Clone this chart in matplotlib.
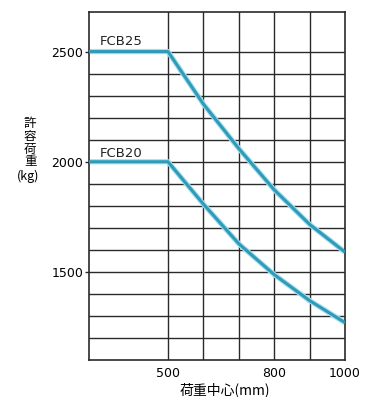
import numpy as np
import matplotlib
matplotlib.use("Agg")
from matplotlib import pyplot as plt

plt.rcParams['font.family'] = ['DejaVu Sans', 'Noto Sans CJK JP']

# load center (mm) and allowable load (kg)
load_center = [277, 500, 600, 700, 800, 900, 1000]
fcb25_load = [2500, 2500, 2262, 2060, 1873, 1716, 1590]
fcb20_load = [2000, 2000, 1808, 1628, 1488, 1370, 1270]

x_ticks = [500, 800, 1000]
y_ticks = [1500, 2000, 2500]
x_grid = [500, 600, 700, 800, 900]
y_grid = list(range(1200, 2600, 100))

ylabel_chars = ['許', '容', '荷', '重']

line_color = '#2f9bb6'
grid_color = '#2a2a2a'

fig = plt.figure(figsize=(3.67, 3.97), dpi=100)
ax = fig.add_axes([0.2425, 0.093, 0.6975, 0.877])

for gx in x_grid:
    ax.axvline(gx, color=grid_color, lw=1.0, zorder=1)
for gy in y_grid:
    ax.axhline(gy, color=grid_color, lw=1.0, zorder=1)

# soft halo then the line itself, like the printed original
for ys in (fcb25_load, fcb20_load):
    ax.plot(load_center, ys, color='#a5def0', lw=3.8, solid_capstyle='butt', zorder=2)
    ax.plot(load_center, ys, color=line_color, lw=2.2, solid_capstyle='butt', zorder=3)

ax.text(308, 2545, 'FCB25', fontsize=9.5, color='#222222', va='center', ha='left')
ax.text(308, 2036, 'FCB20', fontsize=9.5, color='#222222', va='center', ha='left')

ax.set_xlim(277, 1000)
ax.set_ylim(1100, 2680)
ax.set_xticks(x_ticks)
ax.set_yticks(y_ticks)
ax.set_xticklabels([str(v) for v in x_ticks], fontsize=9)
ax.set_yticklabels([str(v) for v in y_ticks], fontsize=9)
ax.tick_params(axis='y', length=3, width=1.0, pad=1, color=grid_color)
ax.tick_params(axis='x', length=0, pad=5)
for sp in ax.spines.values():
    sp.set_color(grid_color)
    sp.set_linewidth(1.2)

# vertical y label, one character per row
for i, ch in enumerate(ylabel_chars):
    fig.text(0.082, 1 - (124 + i * 12.5) / 397, ch, fontsize=9,
             family=['Noto Sans CJK JP'], ha='center', va='center')
fig.text(0.077, 1 - 176 / 397, '(kg)', fontsize=9, family=['Noto Sans CJK JP'],
         ha='center', va='center')
fig.text(0.613, 0.017, '荷重中心(mm)', fontsize=10, family=['Noto Sans CJK JP'],
         ha='center', va='center')

fig.savefig('out.png', dpi=100, facecolor='white')
